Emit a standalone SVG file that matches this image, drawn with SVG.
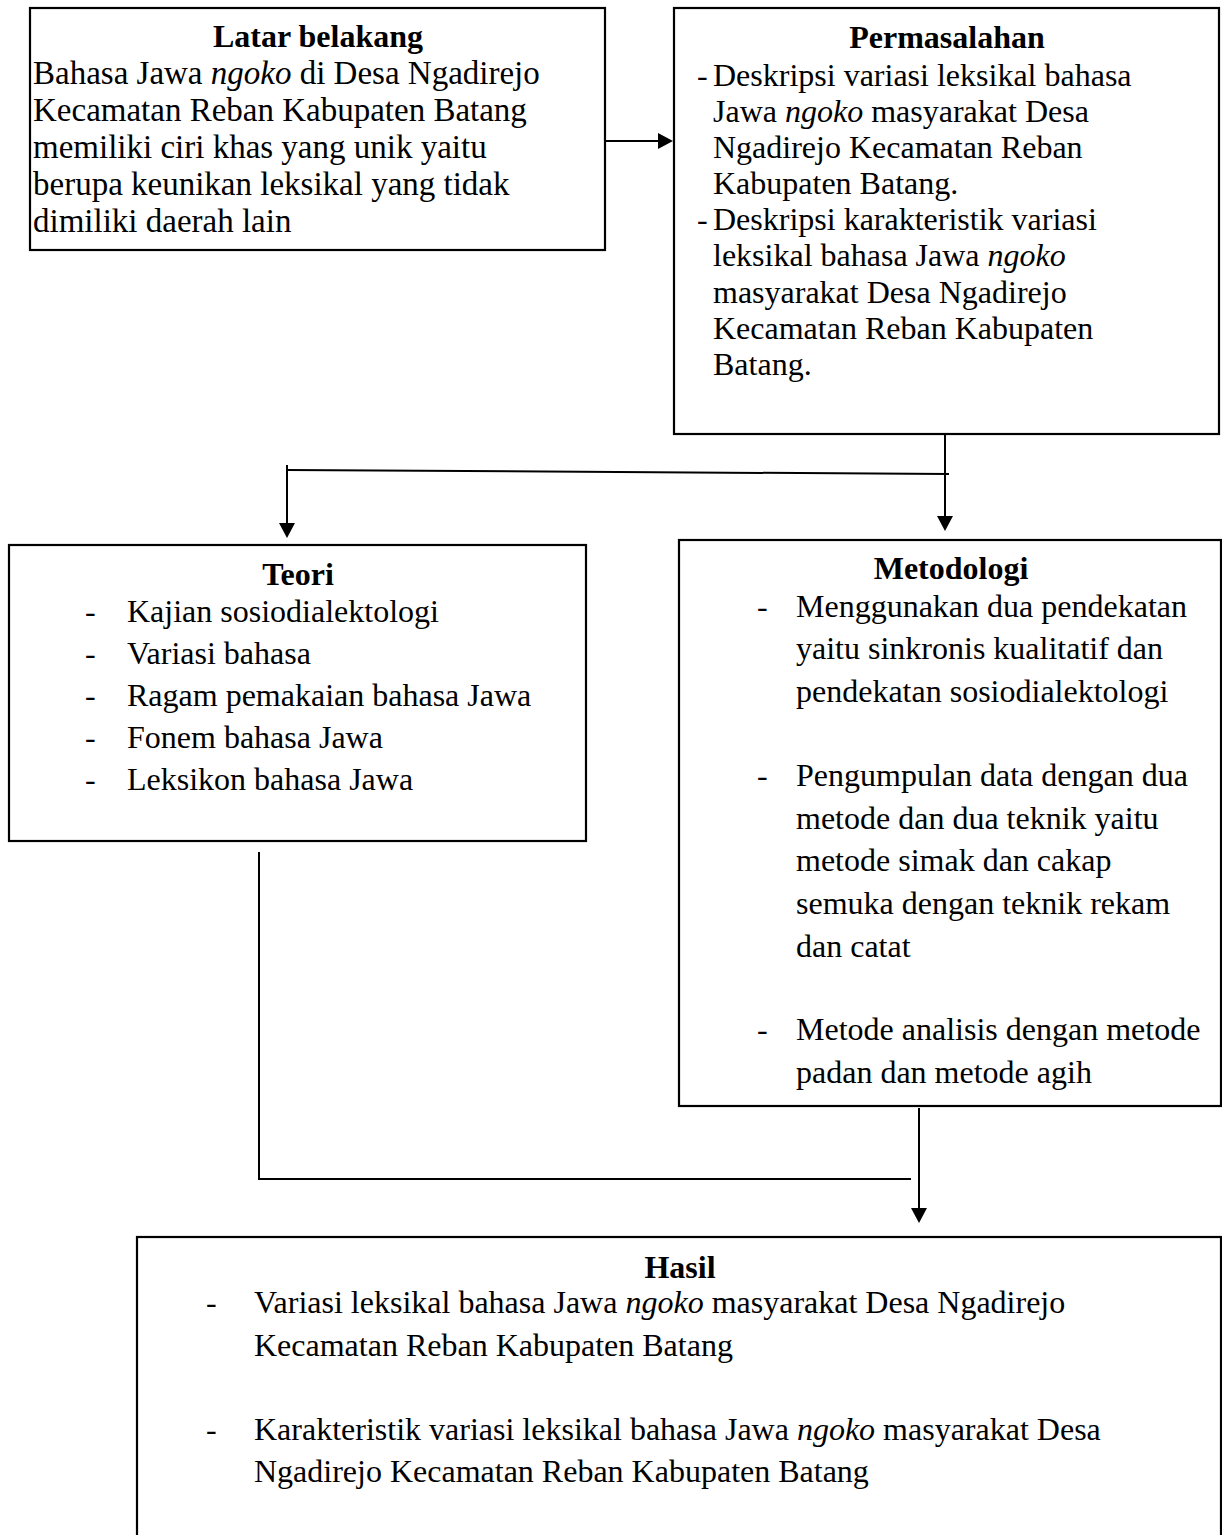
<svg xmlns="http://www.w3.org/2000/svg" width="1222" height="1535" viewBox="0 0 1222 1535">
<defs>
<style>
.box{fill:#fff;stroke:#000;stroke-width:2.2}
.t{font-family:"Liberation Serif","Times New Roman",serif;font-size:32px;fill:#000}
.l{font-size:33px}
.h{font-family:"Liberation Serif","Times New Roman",serif;font-size:32px;font-weight:bold;fill:#000;text-anchor:middle}
.i{font-style:italic}
.c{fill:none;stroke:#000;stroke-width:2}
</style>
<marker id="ah" viewBox="0 0 15 16" markerWidth="15" markerHeight="16" refX="5" refY="8" orient="auto" markerUnits="userSpaceOnUse">
<path d="M0,0 L15,8 L0,16 z" fill="#000"/>
</marker>
</defs>
<rect width="1222" height="1535" fill="#fff"/>

<g id="latar">
<rect class="box" x="30" y="8" width="575" height="242"/>
<text class="h" x="318" y="47">Latar belakang</text>
<text class="t l" x="33" y="84">Bahasa Jawa <tspan class="i">ngoko</tspan> di Desa Ngadirejo</text>
<text class="t l" x="33" y="121">Kecamatan Reban Kabupaten Batang</text>
<text class="t l" x="33" y="158">memiliki ciri khas yang unik yaitu</text>
<text class="t l" x="33" y="195">berupa keunikan leksikal yang tidak</text>
<text class="t l" x="33" y="232">dimiliki daerah lain</text>
</g>

<g id="permasalahan">
<rect class="box" x="674" y="8" width="545" height="426"/>
<text class="h" x="947" y="48">Permasalahan</text>
<text class="t" x="697" y="86">-</text>
<text class="t" x="713" y="86">Deskripsi variasi leksikal bahasa</text>
<text class="t" x="713" y="122">Jawa <tspan class="i">ngoko</tspan> masyarakat Desa</text>
<text class="t" x="713" y="158">Ngadirejo Kecamatan Reban</text>
<text class="t" x="713" y="194">Kabupaten Batang.</text>
<text class="t" x="697" y="230">-</text>
<text class="t" x="713" y="230">Deskripsi karakteristik variasi</text>
<text class="t" x="713" y="266">leksikal bahasa Jawa <tspan class="i">ngoko</tspan></text>
<text class="t" x="713" y="303">masyarakat Desa Ngadirejo</text>
<text class="t" x="713" y="339">Kecamatan Reban Kabupaten</text>
<text class="t" x="713" y="375">Batang.</text>
</g>

<g id="teori">
<rect class="box" x="9" y="545" width="577" height="296"/>
<text class="h" x="298" y="585">Teori</text>
<text class="t" x="85" y="622">-</text>
<text class="t" x="127" y="622">Kajian sosiodialektologi</text>
<text class="t" x="85" y="664">-</text>
<text class="t" x="127" y="664">Variasi bahasa</text>
<text class="t" x="85" y="706">-</text>
<text class="t" x="127" y="706">Ragam pemakaian bahasa Jawa</text>
<text class="t" x="85" y="748">-</text>
<text class="t" x="127" y="748">Fonem bahasa Jawa</text>
<text class="t" x="85" y="790">-</text>
<text class="t" x="127" y="790">Leksikon bahasa Jawa</text>
</g>

<g id="metodologi">
<rect class="box" x="679" y="540" width="542" height="566"/>
<text class="h" x="951" y="579">Metodologi</text>
<text class="t" x="757" y="617">-</text>
<text class="t" x="796" y="617">Menggunakan dua pendekatan</text>
<text class="t" x="796" y="659">yaitu sinkronis kualitatif dan</text>
<text class="t" x="796" y="702">pendekatan sosiodialektologi</text>
<text class="t" x="757" y="786">-</text>
<text class="t" x="796" y="786">Pengumpulan data dengan dua</text>
<text class="t" x="796" y="829">metode dan dua teknik yaitu</text>
<text class="t" x="796" y="871">metode simak dan cakap</text>
<text class="t" x="796" y="914">semuka dengan teknik rekam</text>
<text class="t" x="796" y="957">dan catat</text>
<text class="t" x="757" y="1040">-</text>
<text class="t" x="796" y="1040">Metode analisis dengan metode</text>
<text class="t" x="796" y="1083">padan dan metode agih</text>
</g>

<g id="hasil">
<rect class="box" x="137" y="1237" width="1084" height="320"/>
<text class="h" x="680" y="1278">Hasil</text>
<text class="t" x="206" y="1313">-</text>
<text class="t" x="254" y="1313">Variasi leksikal bahasa Jawa <tspan class="i">ngoko</tspan> masyarakat Desa Ngadirejo</text>
<text class="t" x="254" y="1356">Kecamatan Reban Kabupaten Batang</text>
<text class="t" x="206" y="1440">-</text>
<text class="t" x="254" y="1440">Karakteristik variasi leksikal bahasa Jawa <tspan class="i">ngoko</tspan> masyarakat Desa</text>
<text class="t" x="254" y="1482">Ngadirejo Kecamatan Reban Kabupaten Batang</text>
</g>

<g id="connectors">
<line class="c" x1="605" y1="141" x2="663" y2="141" marker-end="url(#ah)"/>
<line class="c" x1="945" y1="434" x2="945" y2="521" marker-end="url(#ah)"/>
<line class="c" x1="287" y1="470" x2="949" y2="474"/>
<line class="c" x1="287" y1="465" x2="287" y2="528" marker-end="url(#ah)"/>
<polyline class="c" points="259,852 259,1179 911,1179"/>
<line class="c" x1="919" y1="1108" x2="919" y2="1213" marker-end="url(#ah)"/>
</g>
</svg>
